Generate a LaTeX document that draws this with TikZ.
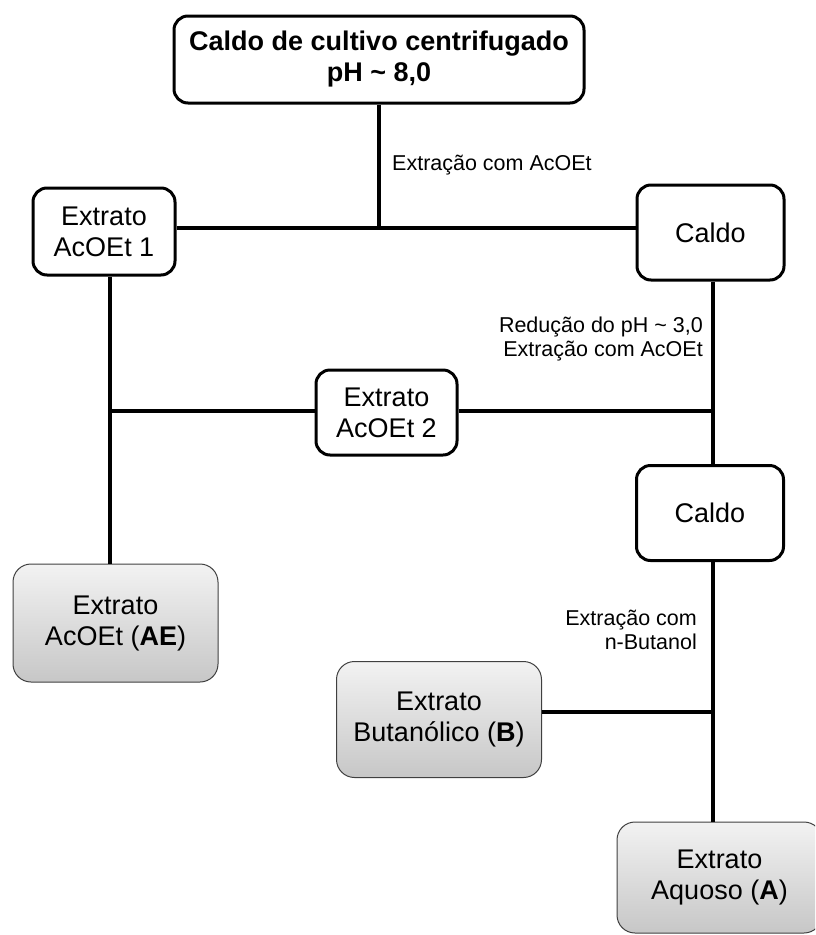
\documentclass[tikz,border=0pt]{standalone}
\usepackage{fontspec}
\setmainfont{Liberation Sans}
\begin{document}
\begin{tikzpicture}[x=1pt,y=-1pt,
  wbox/.style={draw=black,line width=3pt,rounded corners=14pt,fill=white,align=center,inner sep=0pt,font=\fontsize{27}{31}\selectfont},
  gbox/.style={draw=black!75,line width=1pt,rounded corners=18pt,top color=black!5,bottom color=black!22,align=center,inner sep=0pt,font=\fontsize{27}{31}\selectfont},
  conn/.style={line width=3.2pt},
  lbl/.style={font=\fontsize{21.5}{24.5}\selectfont,inner sep=0pt}]
\useasboundingbox (0,0) rectangle (815,935);
\begin{scope}
\clip (0,0) rectangle (815,935);
\node[wbox,minimum width=410pt,minimum height=87pt,font=\bfseries\fontsize{27}{31}\selectfont] (top) at (379,59.5) {Caldo de cultivo centrifugado\\pH \textasciitilde{} 8,0};
\node[wbox,minimum width=142pt,minimum height=87pt] (e1) at (104,231.5) {Extrato\\AcOEt 1};
\node[wbox,minimum width=147pt,minimum height=95pt] (c1) at (710.5,232.5) {Caldo};
\node[wbox,minimum width=141pt,minimum height=85pt] (e2) at (386.5,412.5) {Extrato\\AcOEt 2};
\node[wbox,minimum width=147pt,minimum height=95pt] (c2) at (710,513) {Caldo};
\node[gbox,minimum width=205pt,minimum height=118pt] (ae) at (115.5,623) {Extrato\\AcOEt (\textbf{AE})};
\node[gbox,minimum width=205pt,minimum height=116pt] (b) at (439,719.5) {Extrato\\Butanólico (\textbf{B})};
\node[gbox,minimum width=205pt,minimum height=111pt] (a) at (719.5,877.5) {Extrato\\Aquoso (\textbf{A})};

\coordinate (j1) at (379,228);
\coordinate (j2) at (110,411);
\coordinate (j3) at (713,411);
\coordinate (j4) at (713,712);

\draw[conn] (top.south) -- (j1);
\draw[conn] (e1.east |- j1) -- (c1.west |- j1);
\draw[conn] (c1.south -| j3) -- (c2.north -| j3);
\draw[conn] (e1.south -| j2) -- (ae.north -| j2);
\draw[conn] (j2) -- (e2.west |- j2);
\draw[conn] (e2.east |- j3) -- (j3);
\draw[conn] (c2.south -| j4) -- (a.north -| j4);
\draw[conn] (b.east |- j4) -- (j4);

\node[lbl,anchor=west] (l1) at (392,165) {Extração com AcOEt};
\node[lbl,anchor=east,align=right] (l2) at (703,339) {Redução do pH \textasciitilde{} 3,0\\Extração com AcOEt};
\node[lbl,anchor=east,align=right] (l3) at (697,630) {Extração com\\n-Butanol};
\end{scope}
\end{tikzpicture}
\end{document}
